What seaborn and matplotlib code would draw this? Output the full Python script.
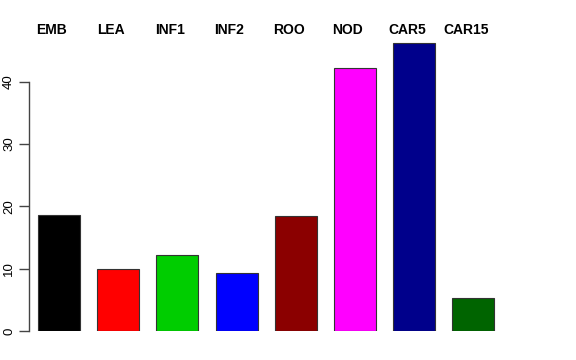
import matplotlib
matplotlib.use("Agg")
import matplotlib.pyplot as plt
import matplotlib.transforms as mtransforms
import seaborn as sns
import pandas as pd

categories = ["EMB", "LEA", "INF1", "INF2", "ROO", "NOD", "CAR5", "CAR15"]
values = [18.7, 9.9, 12.2, 9.3, 18.4, 42.2, 46.3, 5.3]
colors = ["#000000", "#FF0000", "#00CD00", "#0000FF", "#8B0000", "#FF00FF", "#00008B", "#006400"]
yticks = [0, 10, 20, 30, 40]

sns.set_style("white")
plt.rcParams["font.family"] = ["Liberation Sans", "DejaVu Sans"]
plt.rcParams["text.color"] = "black"
plt.rcParams["ytick.color"] = "black"

df = pd.DataFrame({"cat": categories, "val": values})

fig = plt.figure(figsize=(5.76, 3.6), dpi=100)
ax = fig.add_axes([29/576, (360-331)/360, 491/576, 0.8306])

sns.barplot(data=df, x="cat", y="val", hue="cat", palette=colors, order=categories,
            width=0.71, edgecolor="#333333", linewidth=0.8, legend=False, ax=ax, saturation=1)

ax.set_xlim(-0.507, 7.79)
ax.set_ylim(0, 48)
ax.set_xlabel("")
ax.set_ylabel("")
ax.set_xticks([])
ax.set_yticks(yticks)
ax.set_yticklabels([str(t) for t in yticks], rotation=90, va="center", fontsize=9.5, color="black")
for s in ["top", "right", "bottom"]:
    ax.spines[s].set_visible(False)
ax.spines["left"].set_bounds(0, 40)
ax.spines["left"].set_color("#444444")
ax.spines["left"].set_linewidth(1)
ax.tick_params(axis="y", direction="out", length=7, width=1, color="#444444", pad=3, left=True)

trans = mtransforms.blended_transform_factory(ax.transData, fig.transFigure)
for i, c in enumerate(categories):
    ax.text(i - 0.12, (360-30)/360, c, transform=trans, ha="center", va="center",
            fontsize=10, fontweight="bold", color="black", clip_on=False)

fig.savefig("out.png", dpi=100)
